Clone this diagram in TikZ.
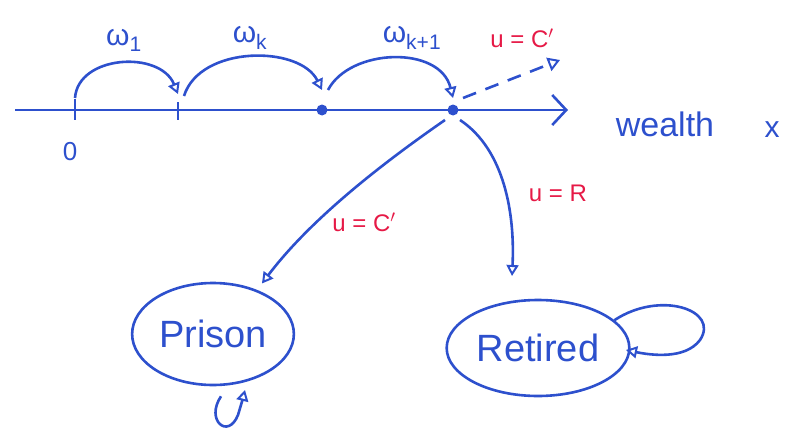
\documentclass[tikz,border=0pt]{standalone}
\usepackage{fontspec}
\setmainfont{Liberation Sans}
\usetikzlibrary{arrows.meta,shapes.geometric}
\definecolor{pen}{RGB}{45,80,205}
\definecolor{redpen}{RGB}{230,25,70}
\begin{document}
\begin{tikzpicture}[x=1pt,y=-1pt,line width=2.6pt,
  every node/.style={text=pen},
  tip/.style={-{Triangle[open,length=11pt,width=12pt,line width=2pt]}},
  lbl/.style={font=\fontsize{30}{30}\selectfont},
  rlbl/.style={text=redpen,font=\fontsize{24}{24}\selectfont},
  state/.style={ellipse,draw=pen,line width=2.6pt,font=\fontsize{38}{38}\selectfont}]
\useasboundingbox (0,0) rectangle (795,439);
\coordinate (axs) at (15,110);
\coordinate (axe) at (568,110);
\coordinate (p0) at (75,110);
\coordinate (p1) at (178,110);
\coordinate (p2) at (322,110);
\coordinate (p3) at (453,110);
\draw[pen,-{Straight Barb[length=14pt,width=30pt,line width=2.6pt]}] (axs) -- (axe);
\draw[pen] ([yshift=11]p0) -- ([yshift=-10]p0);
\draw[pen] ([yshift=8]p1) -- ([yshift=-10]p1);
\fill[pen] (p2) circle (5.5);
\fill[pen] (p3) circle (5.5);
\node (z) at (70,152) {\fontsize{26}{26}\selectfont 0};
\node[lbl] (w1) at (124,40) {ω\textsubscript{1}};
\node[lbl] (wk) at (250,38) {ω\textsubscript{k}};
\node[lbl] (wk1) at (412,38) {ω\textsubscript{k+1}};
\draw[pen,tip] ([yshift=12]p0) .. controls (78,55) and (160,50) .. ([yshift=16]p1);
\draw[pen,tip] ([xshift=6,yshift=14]p1) .. controls (200,45) and (300,45) .. ([yshift=20]p2);
\draw[pen,tip] ([xshift=6,yshift=20]p2) .. controls (350,48) and (440,45) .. ([yshift=12]p3);
\coordinate (dend) at (560,60);
\draw[pen,dashed,dash pattern=on 14pt off 10pt,-{Triangle[open,length=12pt,width=14pt,line width=2pt]}] ([xshift=10,yshift=12]p3) -- (dend);
\node[rlbl] (uc1) at (522,38) {u = C$'$};
\node (wealth) at (665,124) {\fontsize{34}{34}\selectfont wealth};
\node (xx) at (772,130) {\fontsize{30}{30}\selectfont x};
\node[state,minimum width=156,minimum height=102] (prison) at (213,334) {Prison};
\node[state,minimum width=162,minimum height=96] (retired) at (538,348) {Retired};
\coordinate (pa) at (445,120);
\coordinate (ra) at (460,120);
\draw[pen,tip,shorten >=8pt] (pa) .. controls (380,165) and (310,220) .. (prison.45);
\coordinate (rend) at (512,276);
\draw[pen,tip] (ra) .. controls (505,150) and (515,215) .. (rend);
\node[rlbl] (uc2) at (364,222) {u = C$'$};
\node[rlbl] (ur) at (558,193) {u = R};
\draw[pen,tip] (retired.20) .. controls (660,290) and (720,310) .. (700,340) .. controls (685,360) and (650,355) .. (626,350);
\draw[pen,tip] ([xshift=8,yshift=-10]prison.south) .. controls (205,420) and (228,440) .. (238,415) .. controls (241,405) and (243,398) .. (245,390);
\end{tikzpicture}
\end{document}
